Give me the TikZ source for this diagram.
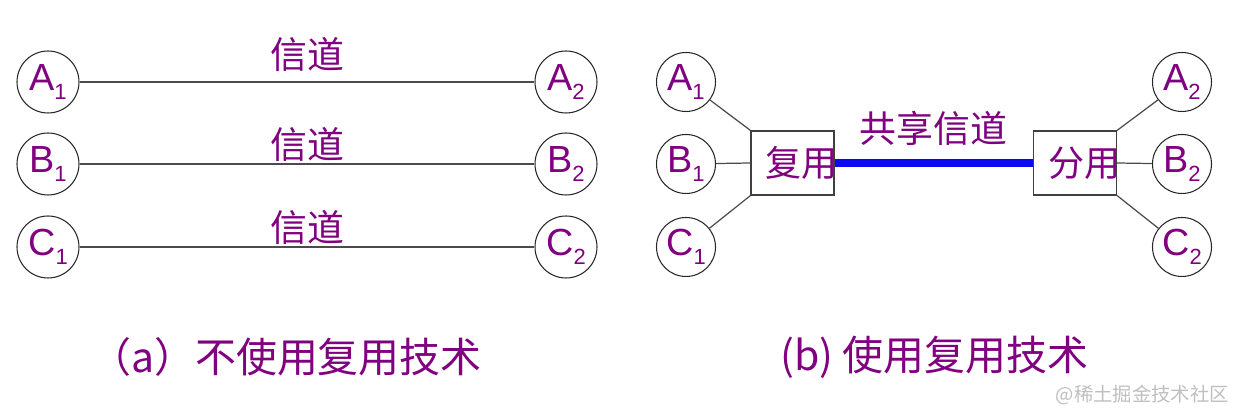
\documentclass[tikz,border=0pt]{standalone}
\usepackage{fontspec}
\setmainfont{Liberation Sans}
\newfontfamily\cjk{Noto Sans CJK SC}
\definecolor{muxpurple}{RGB}{128,0,128}
\definecolor{chanblue}{RGB}{10,10,240}
\definecolor{wiregray}{RGB}{75,75,75}
\newcommand{\stn}[2]{#1\raisebox{-0.17cm}{\fontsize{12.5}{12.5}\selectfont #2}}

\begin{document}
\begin{tikzpicture}[
    station/.style={circle, draw=black!85, line width=0.6pt, minimum size=1.24cm, inner sep=0pt, text=muxpurple, font=\fontsize{21.5}{21.5}\selectfont},
    wire/.style={wiregray, line width=0.7pt},
    chan/.style={text=muxpurple, inner sep=1pt, font=\cjk\fontsize{21}{21}\selectfont},
    muxbox/.style={draw=black!75, line width=0.7pt, text width=1.66cm, align=right, inner xsep=0pt, minimum height=1.28cm, text=muxpurple, font=\cjk\fontsize{20.5}{21}\selectfont},
    caption/.style={anchor=west, text=muxpurple, font=\cjk\fontsize{23.3}{23.3}\selectfont}
]
    \useasboundingbox (0,0) rectangle (24.84,8.26);

    % (a) three separate channels
    \node[station] (a1) at (0.96,6.62) {\stn{A}{1}};
    \node[station] (b1) at (0.96,4.98) {\stn{B}{1}};
    \node[station] (c1) at (0.96,3.32) {\stn{C}{1}};
    \node[station] (a2) at (11.32,6.62) {\stn{A}{2}};
    \node[station] (b2) at (11.32,4.98) {\stn{B}{2}};
    \node[station] (c2) at (11.32,3.32) {\stn{C}{2}};

    \draw[wire] (a1) -- node[chan, above, yshift=0.16cm] (cha) {信道} (a2);
    \draw[wire] (b1) -- node[chan, above] (chb) {信道} (b2);
    \draw[wire] (c1) -- node[chan, above] (chc) {信道} (c2);

    % (b) one shared channel
    \node[station, minimum size=1.18cm] (ma1) at (13.72,6.62) {\stn{A}{1}};
    \node[station, minimum size=1.18cm] (mb1) at (13.72,4.98) {\stn{B}{1}};
    \node[station, minimum size=1.18cm] (mc1) at (13.72,3.32) {\stn{C}{1}};
    \node[station, minimum size=1.18cm] (ma2) at (23.64,6.62) {\stn{A}{2}};
    \node[station, minimum size=1.18cm] (mb2) at (23.64,4.98) {\stn{B}{2}};
    \node[station, minimum size=1.18cm] (mc2) at (23.64,3.32) {\stn{C}{2}};

    \node[muxbox] (mux) at (15.85,5.0) {复用\hspace*{-0.08cm}};
    \node[muxbox] (demux) at (21.5,5.0) {分用\hspace*{-0.08cm}};

    \draw[wire] (ma1) -- (mux.north west);
    \draw[wire] (mb1) -- (mux.west);
    \draw[wire] (mc1) -- (mux.south west);
    \draw[wire] (demux.north east) -- (ma2);
    \draw[wire] (demux.east) -- (mb2);
    \draw[wire] (demux.south east) -- (mc2);

    % shared link
    \draw[chanblue, line width=4.5pt] (mux.east) -- node[chan, above=0.24cm] (share) {共享信道} (demux.west);

    % captions
    \node[caption] (capa) at (1.68,1.12) {（a）不使用复用技术};
    \node[caption] (capb) at (15.48,1.12) {(b) 使用复用技术};
    \node[anchor=east, text=black!25, font=\cjk\fontsize{11}{11}\selectfont] (mark) at (24.7,0.36) {@稀土掘金技术社区};
\end{tikzpicture}
\end{document}
